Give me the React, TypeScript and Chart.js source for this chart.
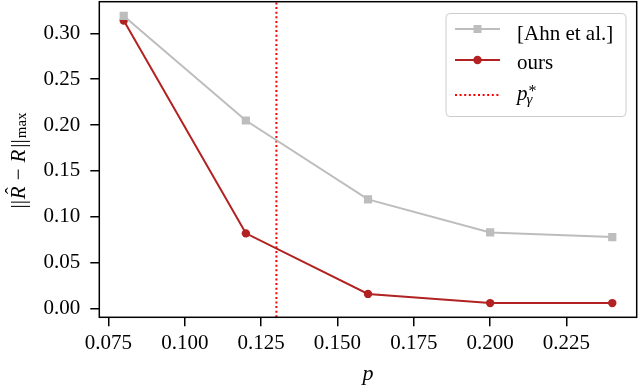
import React, { useEffect, useRef } from "react";
import { Chart, registerables } from "chart.js";

Chart.register(...registerables);

// ---- data ----
const pValues = [0.08, 0.12, 0.16, 0.2, 0.24];
const ahnErrors = [0.319, 0.205, 0.119, 0.083, 0.078];
const oursErrors = [0.314, 0.082, 0.016, 0.006, 0.006];
const pGammaStar = 0.13;
const xTicks = [0.075, 0.1, 0.125, 0.15, 0.175, 0.2, 0.225];
const yTicks = [0.0, 0.05, 0.1, 0.15, 0.2, 0.25, 0.3];
const seriesLabels = ["[Ahn et al.]", "ours", "p*γ"];
const xLimits = [0.072, 0.248];
const yLimits = [-0.0095, 0.3345];

const SERIF = '"Liberation Serif", "DejaVu Serif", serif';
const GREY = "#bdbdbd";
const DARKRED = "#b22222";
const RED = "#ff0000";

const framePlugin = {
  id: "frame",
  afterDatasetsDraw(chart: any) {
    const { ctx, chartArea: a } = chart;
    ctx.save();
    ctx.strokeStyle = "#000";
    ctx.lineWidth = 1.5;
    ctx.strokeRect(a.left, a.top, a.right - a.left, a.bottom - a.top);
    ctx.restore();
  },
};

const yTitlePlugin = {
  id: "yTitle",
  afterDraw(chart: any) {
    const { ctx, chartArea: a } = chart;
    const fs = 21;
    const up = `${fs}px ${SERIF}`;
    const it = `italic ${fs}px ${SERIF}`;
    const sub = `15px ${SERIF}`;
    const parts = [
      { t: "||", f: up, dy: 0, gapAfter: 1 },
      { t: "R", f: it, dy: 0, hat: true, gapAfter: 6 },
      { t: "\u2212", f: up, dy: 0, gapAfter: 6 },
      { t: "R", f: it, dy: 0, gapAfter: 2 },
      { t: "||", f: up, dy: 0, gapAfter: 1 },
      { t: "max", f: sub, dy: 1, gapAfter: 0 },
    ];
    ctx.save();
    let total = 0;
    const widths = parts.map((p) => {
      ctx.font = p.f;
      const w = ctx.measureText(p.t).width;
      total += w + p.gapAfter;
      return w;
    });
    const cy = (a.top + a.bottom) / 2 + 1;
    ctx.translate(25, cy);
    ctx.rotate(-Math.PI / 2);
    ctx.fillStyle = "#000";
    ctx.textBaseline = "alphabetic";
    ctx.textAlign = "left";
    let x = -total / 2;
    parts.forEach((p: any, i) => {
      ctx.font = p.f;
      ctx.fillText(p.t, x, p.dy);
      if (p.hat) {
        ctx.font = `${fs}px ${SERIF}`;
        const hw = ctx.measureText("\u02C6").width;
        ctx.fillText("\u02C6", x + widths[i] / 2 - hw / 2 + 2, -5);
      }
      x += widths[i] + p.gapAfter;
    });
    ctx.restore();
  },
};

const legendPlugin = {
  id: "customLegend",
  afterDraw(chart: any) {
    const { ctx } = chart;
    const bx = 446, by = 13.5, bw = 180, bh = 103, r = 4;
    ctx.save();
    ctx.beginPath();
    ctx.moveTo(bx + r, by);
    ctx.arcTo(bx + bw, by, bx + bw, by + bh, r);
    ctx.arcTo(bx + bw, by + bh, bx, by + bh, r);
    ctx.arcTo(bx, by + bh, bx, by, r);
    ctx.arcTo(bx, by, bx + bw, by, r);
    ctx.closePath();
    ctx.fillStyle = "rgba(255,255,255,0.8)";
    ctx.fill();
    ctx.strokeStyle = "#cccccc";
    ctx.lineWidth = 1;
    ctx.stroke();

    const x0 = 455, x1 = 500, xm = 477.5, tx = 517;
    const rows = [29, 60, 95];
    const baselines = [39.5, 68.5, 100];

    // row 1: grey squares
    ctx.strokeStyle = GREY;
    ctx.lineWidth = 2;
    ctx.beginPath();
    ctx.moveTo(x0, rows[0]);
    ctx.lineTo(x1, rows[0]);
    ctx.stroke();
    ctx.fillStyle = GREY;
    ctx.fillRect(xm - 4, rows[0] - 4, 8, 8);

    // row 2: red circles
    ctx.strokeStyle = DARKRED;
    ctx.beginPath();
    ctx.moveTo(x0, rows[1]);
    ctx.lineTo(x1, rows[1]);
    ctx.stroke();
    ctx.fillStyle = DARKRED;
    ctx.beginPath();
    ctx.arc(xm, rows[1], 4.2, 0, Math.PI * 2);
    ctx.fill();

    // row 3: dotted red
    ctx.strokeStyle = RED;
    ctx.setLineDash([2, 2.6]);
    ctx.beginPath();
    ctx.moveTo(x0, rows[2]);
    ctx.lineTo(x1, rows[2]);
    ctx.stroke();
    ctx.setLineDash([]);

    ctx.fillStyle = "#000";
    ctx.textBaseline = "alphabetic";
    ctx.textAlign = "left";
    ctx.font = `21px ${SERIF}`;
    ctx.fillText(seriesLabels[0], tx, baselines[0]);
    ctx.fillText(seriesLabels[1], tx, baselines[1]);
    // p^*_gamma
    ctx.font = `italic 21px ${SERIF}`;
    ctx.fillText("p", tx, baselines[2]);
    const pw = ctx.measureText("p").width;
    ctx.font = `16px ${SERIF}`;
    ctx.fillText("*", tx + pw + 1, baselines[2] - 4);
    ctx.font = `italic 15px ${SERIF}`;
    ctx.fillText("γ", tx + pw - 1, baselines[2] + 4);
    ctx.restore();
  },
};

export default function App() {
  const ref = useRef<HTMLCanvasElement | null>(null);
  useEffect(() => {
    if (!ref.current) return;
    const chart = new Chart(ref.current, {
      type: "line",
      data: {
        datasets: [
          {
            label: seriesLabels[0],
            data: pValues.map((x, i) => ({ x, y: ahnErrors[i] })),
            borderColor: GREY,
            backgroundColor: GREY,
            borderWidth: 2,
            pointStyle: "rect",
            pointRadius: 5.8,
            pointBorderWidth: 0,
            pointBackgroundColor: GREY,
          },
          {
            label: seriesLabels[1],
            data: pValues.map((x, i) => ({ x, y: oursErrors[i] })),
            borderColor: DARKRED,
            backgroundColor: DARKRED,
            borderWidth: 2,
            pointStyle: "circle",
            pointRadius: 4.2,
            pointBorderWidth: 0,
            pointBackgroundColor: DARKRED,
          },
          {
            label: seriesLabels[2],
            data: [
              { x: pGammaStar, y: yLimits[0] },
              { x: pGammaStar, y: yLimits[1] },
            ],
            borderColor: RED,
            borderWidth: 2,
            borderDash: [2, 2.6],
            pointRadius: 0,
          },
        ],
      },
      options: {
        responsive: false,
        animation: false,
        events: [],
        layout: { autoPadding: false, padding: { top: 1.7, right: 3.3, left: 0, bottom: 0 } },
        plugins: {
          legend: { display: false },
          tooltip: { enabled: false },
        },
        scales: {
          x: {
            type: "linear",
            min: xLimits[0],
            max: xLimits[1],
            afterBuildTicks: (s: any) => {
              s.ticks = xTicks.map((v) => ({ value: v }));
            },
            afterFit: (s: any) => {
              s.height = 70.7;
              s.paddingLeft = 0;
              s.paddingRight = 0;
              s.paddingTop = 0;
              s.paddingBottom = 0;
            },
            grid: {
              display: true,
              drawOnChartArea: false,
              drawTicks: true,
              tickLength: 9,
              color: "#000",
              lineWidth: 1.5,
            },
            border: { display: false },
            ticks: {
              autoSkip: false,
              maxRotation: 0,
              padding: 5,
              color: "#000",
              font: { family: SERIF, size: 21 },
              callback: (v: any) => Number(v).toFixed(3),
            },
            title: {
              display: true,
              text: "p",
              color: "#000",
              font: { family: SERIF, size: 22, style: "italic" },
              padding: { top: 0, bottom: 1 },
            },
          },
          y: {
            type: "linear",
            min: yLimits[0],
            max: yLimits[1],
            afterBuildTicks: (s: any) => {
              s.ticks = yTicks.map((v) => ({ value: v }));
            },
            afterFit: (s: any) => {
              s.width = 99.3;
              s.paddingLeft = 0;
              s.paddingRight = 0;
              s.paddingTop = 0;
              s.paddingBottom = 0;
            },
            grid: {
              display: true,
              drawOnChartArea: false,
              drawTicks: true,
              tickLength: 9,
              color: "#000",
              lineWidth: 1.5,
            },
            border: { display: false },
            ticks: {
              autoSkip: false,
              padding: 10,
              color: "#000",
              font: { family: SERIF, size: 21 },
              callback: (v: any) => Number(v).toFixed(2),
            },
            title: { display: false },
          },
        },
      },
      plugins: [framePlugin, yTitlePlugin, legendPlugin],
    } as any);
    return () => chart.destroy();
  }, []);
  return (
    <div style={{ position: "absolute", left: 0, top: 0, width: 640, height: 388, background: "#fff" }}>
      <canvas ref={ref} width={640} height={388} />
    </div>
  );
}
